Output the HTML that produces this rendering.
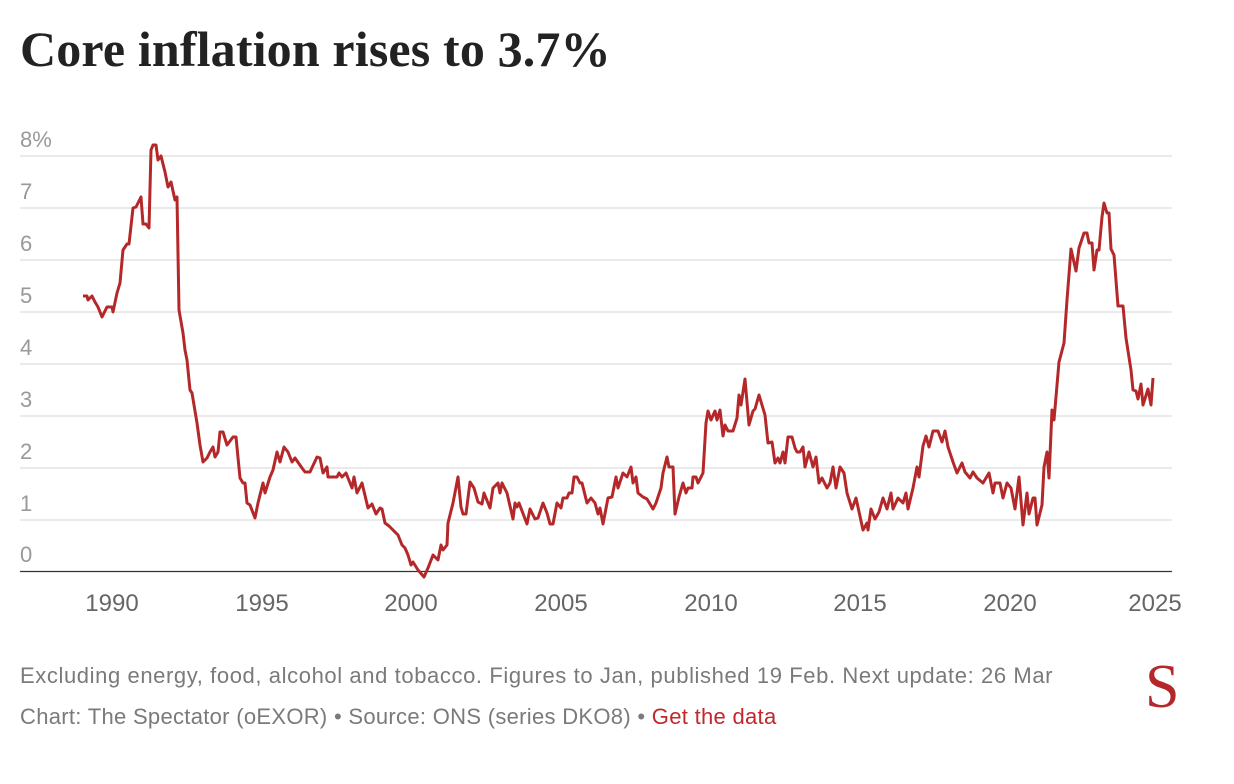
<!DOCTYPE html>
<html><head><meta charset="utf-8"><style>
body{margin:0;background:#fff;width:1234px;height:784px;overflow:hidden;position:relative;font-family:"Liberation Sans",sans-serif}
.t{position:absolute;left:20px;top:20px;font-family:"Liberation Serif",serif;font-weight:bold;font-size:50px;color:#222;letter-spacing:0.15px}
.f{position:absolute;left:20px;font-size:22px;color:#7a7a7a;letter-spacing:0.6px;white-space:nowrap}
.s{position:absolute;left:1145px;top:652px;font-family:"Liberation Serif",serif;font-size:62px;color:#b5282a}
</style></head><body>
<div class="t">Core inflation rises to 3.7%</div>
<svg width="1234" height="784" style="position:absolute;left:0;top:0">
<g stroke="#e3e3e3" stroke-width="1.5">
<line x1="20" x2="1172" y1="156" y2="156"/><line x1="20" x2="1172" y1="208" y2="208"/><line x1="20" x2="1172" y1="260" y2="260"/><line x1="20" x2="1172" y1="312" y2="312"/><line x1="20" x2="1172" y1="364" y2="364"/><line x1="20" x2="1172" y1="416" y2="416"/><line x1="20" x2="1172" y1="468" y2="468"/><line x1="20" x2="1172" y1="520" y2="520"/>
</g>
<line x1="20" x2="1172" y1="571.5" y2="571.5" stroke="#333" stroke-width="1.2"/>
<g fill="#999" font-size="22" font-family="Liberation Sans,sans-serif">
<text x="20" y="147">8%</text><text x="20" y="199">7</text><text x="20" y="251">6</text><text x="20" y="303">5</text><text x="20" y="355">4</text><text x="20" y="407">3</text><text x="20" y="459">2</text><text x="20" y="511">1</text><text x="20" y="562">0</text>
</g>
<g fill="#666" font-size="24" text-anchor="middle" font-family="Liberation Sans,sans-serif">
<text x="112" y="611">1990</text><text x="262" y="611">1995</text><text x="411" y="611">2000</text><text x="561" y="611">2005</text><text x="711" y="611">2010</text><text x="860" y="611">2015</text><text x="1010" y="611">2020</text><text x="1155" y="611">2025</text>
</g>
<polyline fill="none" stroke="#b5282a" stroke-width="3" stroke-linejoin="round" points="83,296 87,296 88,300 92,296 95,302 98,307 102,317 107,307 112,307 113,312 117,293 120,283 123,250 127,244 129,244 133,208 136,207 141,197 143,224 146,224 149,228 151,150 153,145 156,145 158,160 161,156 165,172 168,187 171,182 175,200 177,197 179,310 183,333 185,350 187,360 190,390 192,393 197,423 200,445 203,462 207,458 210,452 213,447 215,457 218,452 220,432 223,432 227,445 233,437 236,437 240,478 243,483 245,483 247,503 250,505 255,518 258,503 263,483 265,493 270,477 273,470 277,452 280,462 284,447 288,452 292,462 295,458 302,468 305,472 310,472 317,457 320,458 323,473 327,467 328,477 337,477 339,473 342,477 346,473 352,488 354,477 357,493 362,483 368,508 372,504 376,514 380,508 382,509 385,523 389,526 393,530 398,535 402,545 405,548 408,555 411,565 413,562 418,570 424,577 428,568 433,555 438,560 441,545 443,550 447,545 448,523 453,503 458,477 461,507 463,514 466,514 470,482 474,488 478,502 482,504 484,493 490,508 493,488 498,483 500,493 502,483 507,493 513,519 515,503 517,507 519,503 527,524 530,509 535,519 538,518 543,503 547,513 550,524 553,524 557,503 561,508 563,498 567,498 569,493 572,493 574,477 577,477 580,483 582,483 587,503 591,498 595,503 598,514 600,508 603,524 608,498 612,497 616,477 618,488 623,473 627,477 631,467 633,483 636,477 638,493 643,497 647,499 653,509 656,503 661,488 663,473 667,457 669,467 673,467 675,514 679,497 683,483 686,493 688,488 692,488 693,477 696,477 698,483 703,473 706,423 708,411 711,420 715,411 717,420 720,410 723,436 725,425 728,431 733,431 737,418 739,395 741,405 745,379 749,425 753,411 755,409 759,395 765,415 768,443 772,442 775,463 778,458 780,463 783,452 785,463 788,437 792,437 795,448 797,452 800,452 803,447 805,467 809,452 813,467 816,457 819,483 822,478 827,488 830,483 833,467 836,488 840,467 844,473 847,493 852,509 856,498 863,530 867,523 868,530 871,509 875,519 879,512 883,498 887,509 891,493 893,509 898,498 903,503 906,493 908,509 913,488 917,467 919,477 923,446 926,436 929,447 933,431 938,431 942,442 945,431 948,447 953,462 957,473 962,463 965,472 970,478 973,472 977,478 983,483 989,473 993,493 995,483 1000,483 1003,498 1007,483 1011,488 1015,509 1019,477 1023,525 1027,493 1029,514 1033,498 1035,498 1037,525 1042,505 1044,467 1047,452 1049,478 1052,410 1054,420 1059,362 1064,343 1067,300 1071,249 1076,271 1079,248 1084,233 1087,233 1089,243 1092,243 1094,270 1097,250 1099,250 1102,217 1104,203 1107,213 1109,213 1111,249 1114,255 1118,306 1123,306 1126,338 1131,370 1133,390 1136,391 1138,399 1141,384 1143,405 1148,389 1151,405 1153,378"/>
</svg>
<div class="f" style="top:663px">Excluding energy, food, alcohol and tobacco. Figures to Jan, published 19 Feb. Next update: 26 Mar</div>
<div class="f" style="top:704px;letter-spacing:0.3px">Chart: The Spectator (oEXOR) • Source: ONS (series DKO8) • <span style="color:#c0282c">Get the data</span></div>
<div class="s">S</div>
</body></html>
